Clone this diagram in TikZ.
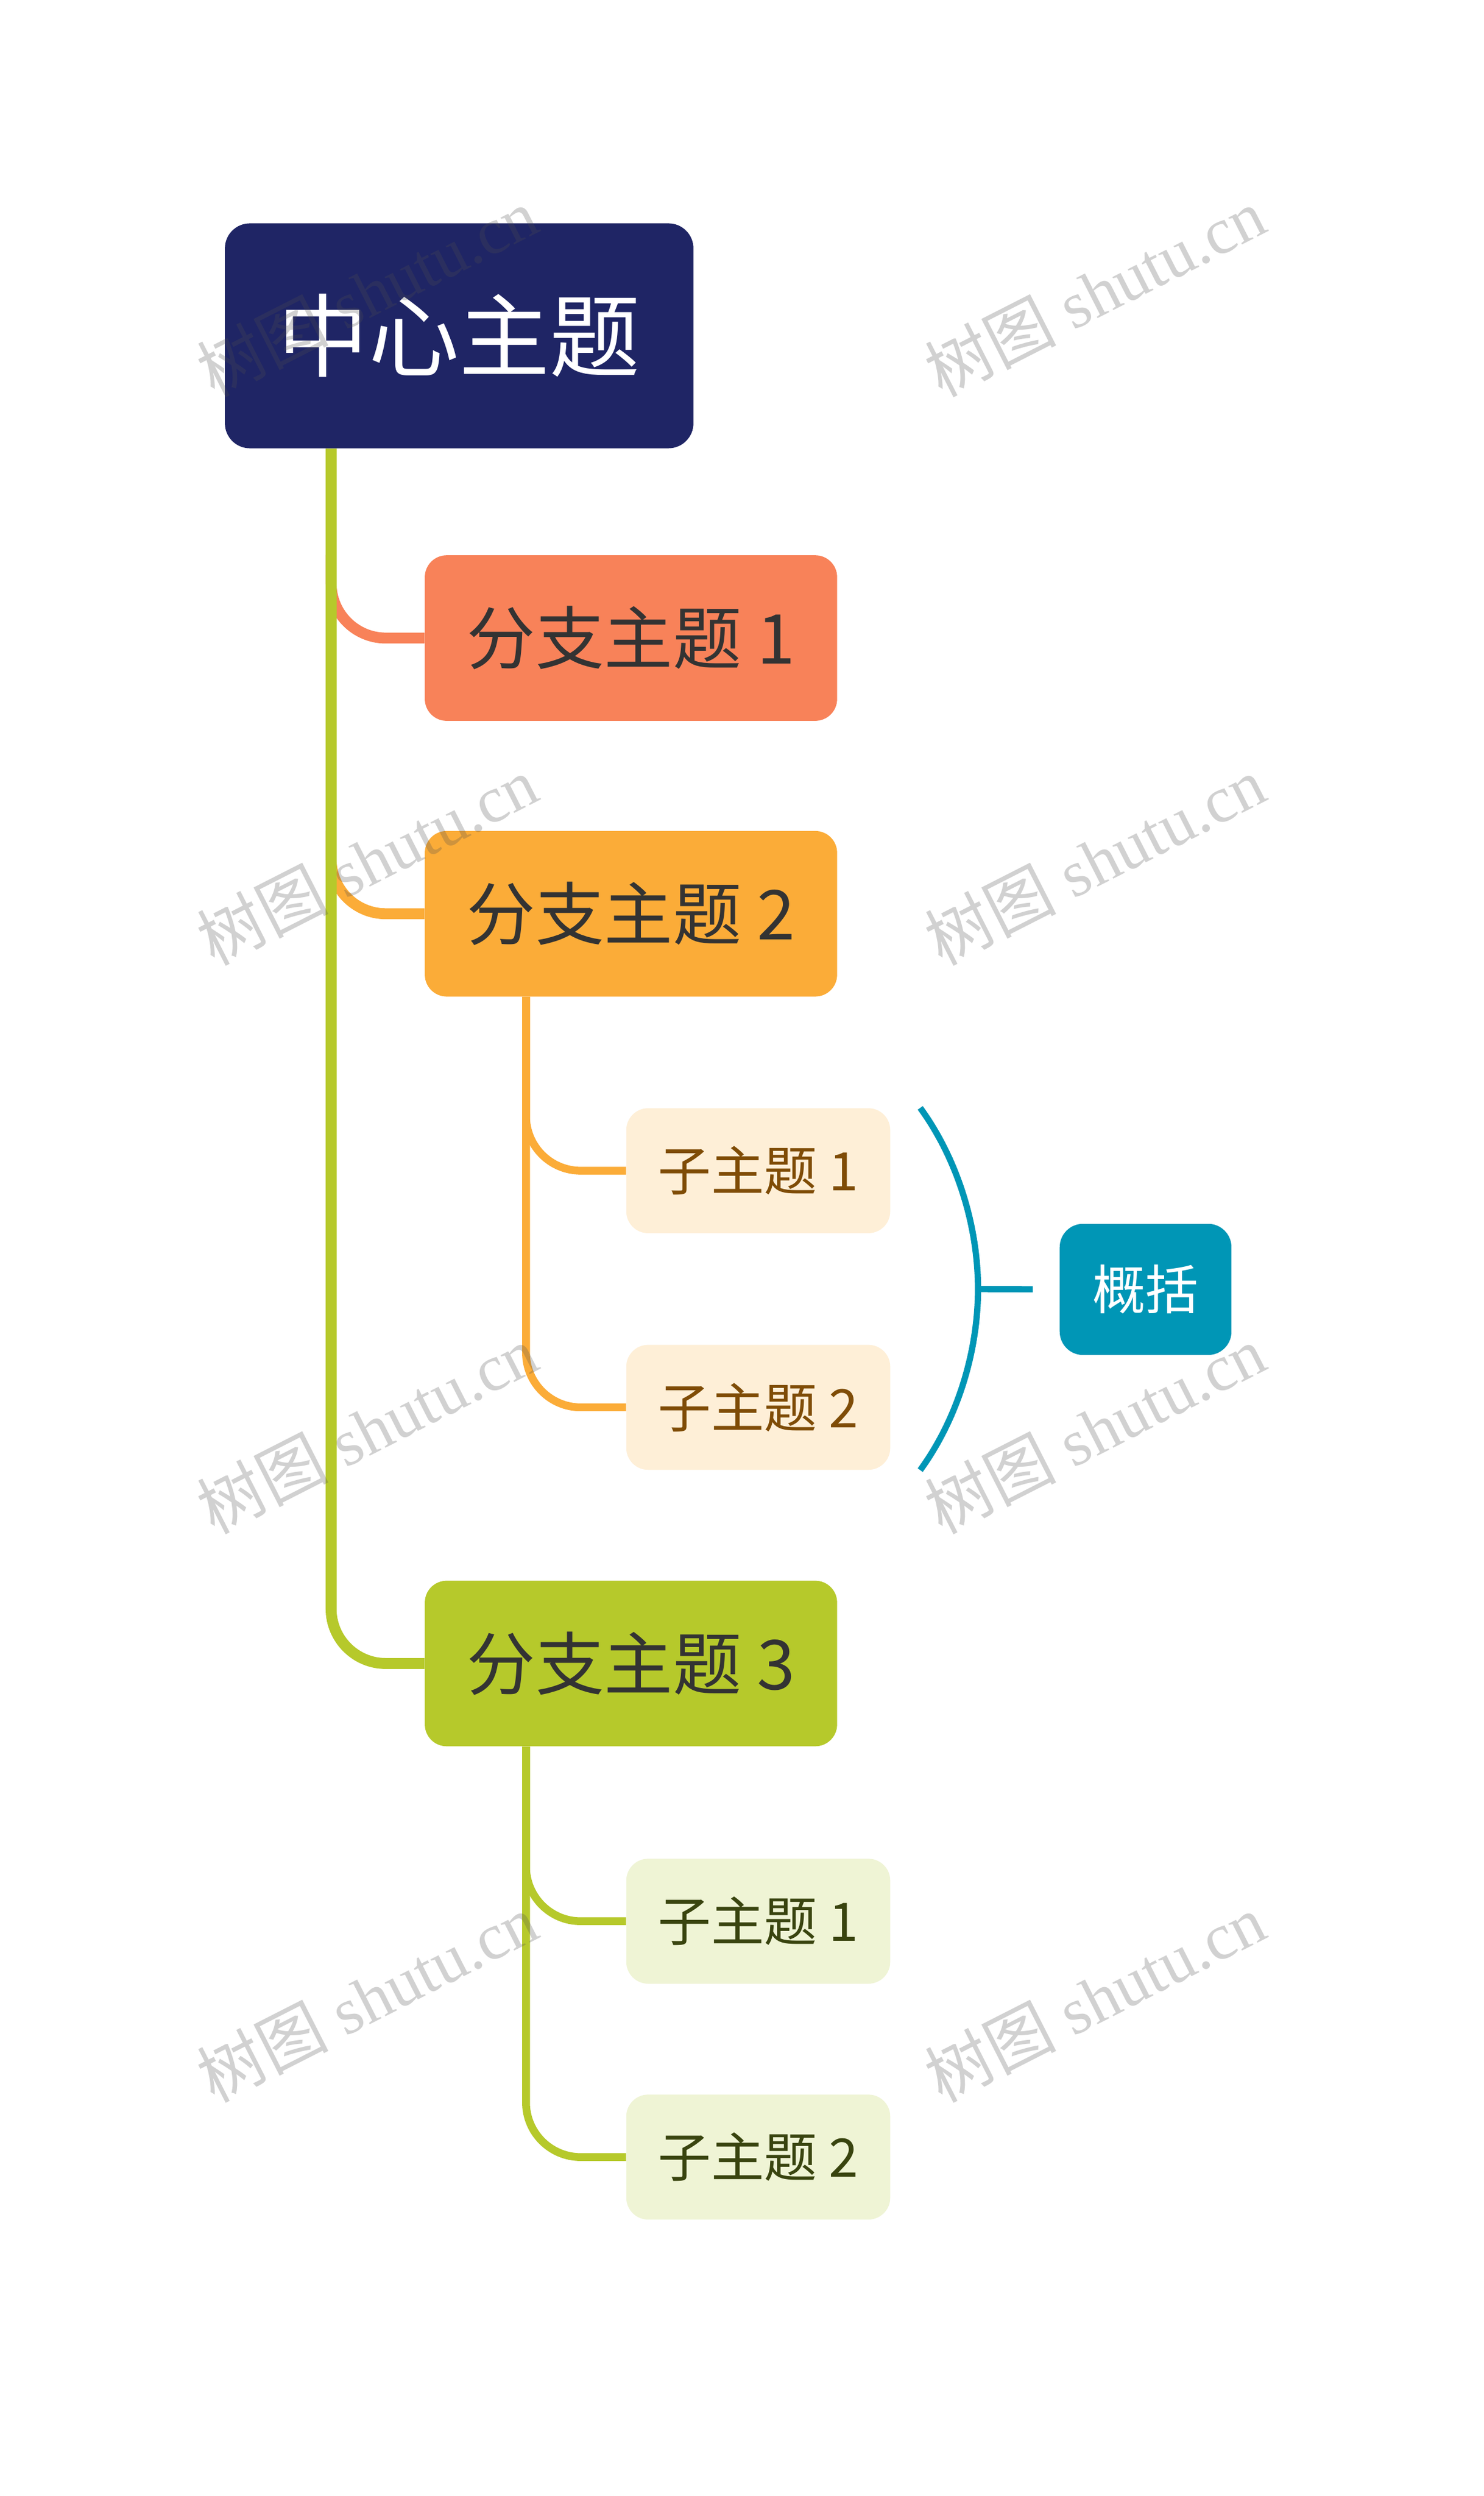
\documentclass[tikz,border=0pt]{standalone}
\usepackage{fontspec}
\newfontfamily\cjk{Noto Sans CJK SC}
\newfontfamily\wmfont{Liberation Serif}
\usetikzlibrary{calc}
\definecolor{rootblue}{HTML}{1F2565}
\definecolor{coral}{HTML}{F88259}
\definecolor{amber}{HTML}{FBAC38}
\definecolor{lime}{HTML}{B6C92B}
\definecolor{paleamber}{HTML}{FEEFD7}
\definecolor{palelime}{HTML}{EFF4D5}
\definecolor{teal}{HTML}{0096B6}
\definecolor{brown}{HTML}{7F4C06}
\definecolor{olive}{HTML}{39440F}
\definecolor{ink}{HTML}{333333}

\begin{document}
\begin{tikzpicture}[x=1pt,y=-1pt,
  box/.style={rounded corners=14, inner sep=0pt},
  rootbox/.style={box, rounded corners=16, fill=rootblue, text=white, minimum width=300, minimum height=144, font=\cjk\fontsize{58}{60}\selectfont},
  branch/.style={box, fill=#1, text=ink, minimum width=264, minimum height=106, font=\cjk\fontsize{44}{46}\selectfont},
  subbox/.style={box, minimum width=169, minimum height=80, font=\cjk\fontsize{34}{36}\selectfont},
  sumbox/.style={box, rounded corners=15, fill=teal, text=white, minimum width=110, minimum height=84, font=\cjk\fontsize{34}{36}\selectfont},
  link/.style={draw=#1, line width=7, rounded corners=35},
  sublink/.style={draw=#1, line width=5, rounded corners=35},
  wm/.style={text=black!69, opacity=0.26, rotate=27, inner sep=0pt, font=\wmfont\fontsize{42}{42}\selectfont}]
\path[use as bounding box, fill=white] (0,0) rectangle (950,1598);

% topics
\node[rootbox] (root) at (294,215) {中心主题};
\node[branch=coral] (b1) at (404,408.5) {分支主题 1};
\node[branch=amber] (b2) at (404,585) {分支主题 2};
\node[branch=lime] (b3) at (404,1065) {分支主题 3};
\node[subbox, fill=paleamber, text=brown] (s21) at (485.5,749.5) {子主题 1};
\node[subbox, fill=paleamber, text=brown] (s22) at (485.5,901) {子主题 2};
\node[subbox, fill=palelime, text=olive] (s31) at (485.5,1230) {子主题 1};
\node[subbox, fill=palelime, text=olive] (s32) at (485.5,1381) {子主题 2};
\node[sumbox] (sum) at (733.5,825.5) {概括};

% connectors
\coordinate (trunk) at ([xshift=-82pt]root.south);
\coordinate (b2foot) at ([xshift=65pt]b2.south west);
\coordinate (b3foot) at ([xshift=65pt]b3.south west);
\draw[link=coral] (b1.north -| trunk) |- (b1.west);
\draw[link=amber] (b2.north -| trunk) |- (b2.west);
\draw[link=lime] (trunk) |- (b3.west);
\draw[sublink=amber] (b2foot) |- (s21.west);
\draw[sublink=amber] (b2foot) |- (s22.west);
\draw[sublink=lime] (b3foot) |- (s31.west);
\draw[sublink=lime] (b3foot) |- (s32.west);

% summary bracket
\coordinate (brtop) at ([xshift=19pt]s21.north east);
\coordinate (brbot) at ([xshift=19pt]s22.south east);
\coordinate (brmid) at ($(brtop)!0.5!(brbot)+(37,0)$);
\draw[teal, line width=4] (brtop) .. controls +(24,33) and +(0,-40) .. (brmid)
  .. controls +(0,40) and +(24,-33) .. (brbot);
\draw[teal, line width=4, shorten >=17pt] (brmid) -- (sum.west);

% watermark
\foreach \wy in {187,551,915,1279}
  \foreach \wx in {235,701}
    \node[wm] (wm-\wx-\wy) at (\wx,\wy) {{\cjk 树图} shutu.cn};
\end{tikzpicture}
\end{document}
